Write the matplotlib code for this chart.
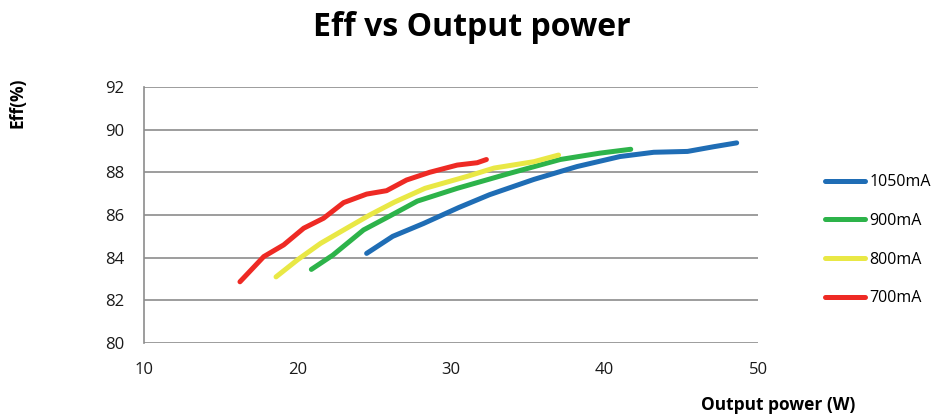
import matplotlib.pyplot as plt
from matplotlib.lines import Line2D

plt.rcParams['font.family'] = ['Open Sans', 'DejaVu Sans']

# Efficiency curves, one pair of lists per drive current.
p_1050 = [24.5, 26.2, 28.2, 30.5, 32.5, 35.4, 38.2, 41.0, 43.2, 45.4, 47.1, 48.6]
eff_1050 = [84.2, 85.0, 85.6, 86.35, 86.95, 87.67, 88.27, 88.74, 88.94, 88.98, 89.2, 89.38]

p_900 = [20.9, 22.3, 24.3, 26.0, 27.8, 30.4, 33.8, 37.1, 39.7, 41.7]
eff_900 = [83.45, 84.12, 85.3, 85.95, 86.65, 87.25, 87.95, 88.6, 88.9, 89.08]

p_800 = [18.6, 20.0, 21.5, 23.2, 24.7, 26.3, 28.3, 31.0, 32.8, 35.4, 37.0]
eff_800 = [83.1, 83.9, 84.67, 85.38, 86.0, 86.6, 87.25, 87.8, 88.2, 88.5, 88.81]

p_700 = [16.25, 17.8, 19.1, 20.4, 21.7, 23.0, 24.5, 25.8, 27.1, 28.6, 30.4, 31.7, 32.3]
eff_700 = [82.87, 84.05, 84.6, 85.38, 85.85, 86.58, 86.98, 87.14, 87.64, 88.0, 88.34, 88.45, 88.6]

series = [
    ('1050mA', p_1050, eff_1050, '#1f6db5'),
    ('900mA', p_900, eff_900, '#2db34a'),
    ('800mA', p_800, eff_800, '#e9e845'),
    ('700mA', p_700, eff_700, '#ee2a24'),
]

fig = plt.figure(figsize=(9.43, 4.18), dpi=100)
ax = fig.add_axes([0.1527, 0.1794, 0.6513, 0.6125])

for name, x, y, c in series:
    ax.plot(x, y, color=c, lw=3.6, solid_capstyle='round',
            solid_joinstyle='round', label=name)

ax.set_xlim(10, 50)
ax.set_ylim(80, 92)
ax.set_xticks(range(10, 51, 10))
ax.set_yticks(range(80, 93, 2))
ax.grid(axis='y', color='#8c8c8c', lw=1.2)
ax.set_axisbelow(True)
for s in ['top', 'right', 'bottom']:
    ax.spines[s].set_visible(False)
ax.spines['left'].set_color('#8c8c8c')
ax.spines['left'].set_linewidth(1.2)
ax.tick_params(length=0, labelsize=12, pad=14, colors='#1a1a1a')
ax.tick_params(axis='x', pad=14)

fig.text(0.5, 0.935, 'Eff vs Output power', ha='center', va='center',
         fontsize=23, fontweight='bold')
fig.text(0.019, 0.755, 'Eff(%)', rotation=90, ha='center', va='center',
         fontsize=12.5, fontweight='bold')
fig.text(0.825, 0.03, 'Output power (W)', ha='center', va='center',
         fontsize=12.5, fontweight='bold')

handles = [Line2D([0], [0], color=c, lw=3.6, solid_capstyle='round')
           for _, _, _, c in series]
fig.legend(handles, [s[0] for s in series], loc='center left',
           bbox_to_anchor=(0.875, 0.425), frameon=False, fontsize=11.5,
           handlelength=2.5, handletextpad=0.25, labelspacing=1.42,
           borderaxespad=0, borderpad=0)

plt.savefig('out.png')
